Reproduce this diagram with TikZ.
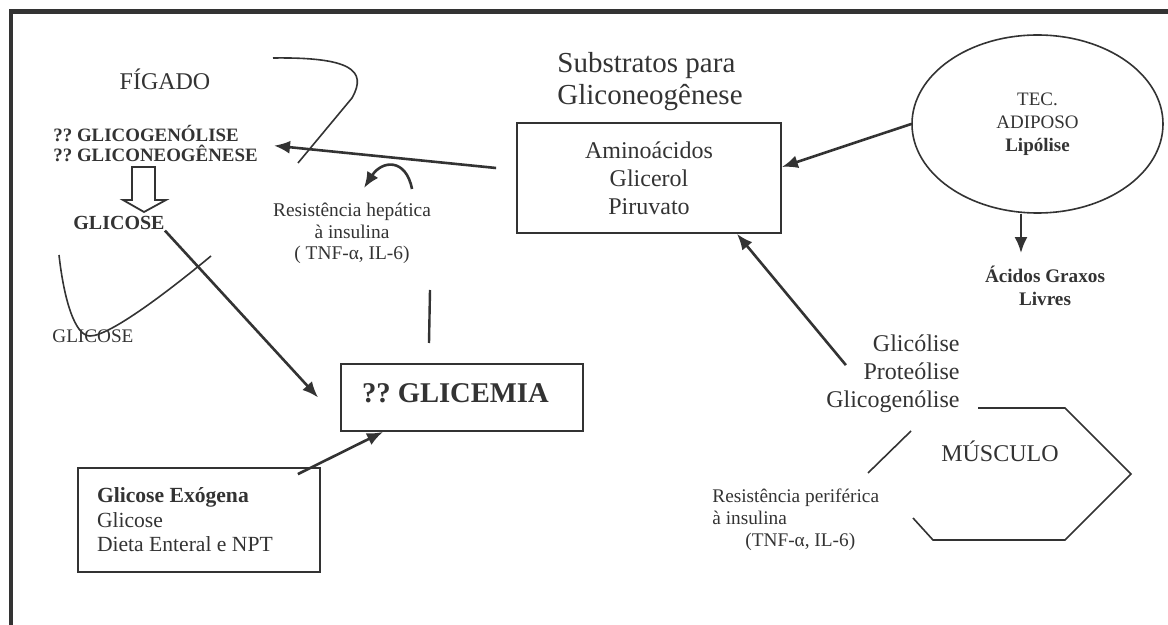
\documentclass[tikz,border=0pt]{standalone}
\usepackage{fontspec}
\setmainfont{Liberation Serif}
\usetikzlibrary{shapes.geometric, positioning}
\usetikzlibrary{arrows.meta}

\definecolor{ink}{HTML}{333333}
\frenchspacing

\begin{document}
\begin{tikzpicture}[x=0.5pt, y=-0.5pt,
    text=ink,
    inner sep=0pt,
    flow/.style={-{Latex[length=8pt,width=6.5pt]}, line width=1.3pt, draw=ink},
    traco/.style={line width=0.8pt, draw=ink},
    caixa/.style={draw=ink, line width=0.9pt}]
    \useasboundingbox (0,0) rectangle (1168,625);
    % moldura
    \draw[line width=2.3pt, draw=ink] (10.8,640) -- (10.8,11.7) -- (1180,11.7);

    % figado
    \node[anchor=base,
          font=\fontsize{12}{14}\selectfont] (figado) at (165,90) {FÍGADO};
    \node[anchor=base west,
          align=left,
          font=\bfseries\fontsize{9.45}{10}\selectfont] (hepatico) at (53,162)
        {?? GLICOGENÓLISE\\?? GLICONEOGÊNESE};
    \node[anchor=base west,
          font=\bfseries\fontsize{10}{12}\selectfont] (glicose) at (73,230) {GLICOSE};
    \node[anchor=base west,
          font=\fontsize{9.6}{11}\selectfont] (glicoseb) at (52,343) {GLICOSE};
    \node[anchor=base,
          align=center,
          font=\fontsize{9.7}{10.75}\selectfont] (resHep) at (352,260)
        {Resistência hepática\\à insulina\\( TNF-α, IL-6)};

    % glicemia
    \node[caixa,
          minimum width=121pt,
          minimum height=33.5pt,
          text width=100pt,
          align=flush left,
          inner xsep=10.5pt,
          text height=9.5pt,
          text depth=4pt,
          font=\bfseries\fontsize{14.3}{16}\selectfont] (glicemia) at (462,397.5) {?? GLICEMIA};
    \node[caixa,
          minimum width=121pt,
          minimum height=52pt,
          text width=102pt,
          align=flush left,
          font=\fontsize{10.8}{12.25}\selectfont] (exogena) at (199,520)
        {\textbf{Glicose Exógena}\\Glicose\\Dieta Enteral e NPT};

    % substratos
    \node[anchor=base west,
          align=left,
          font=\fontsize{14.5}{16}\selectfont] (substTit) at (557,105)
        {Substratos para\\Gliconeogênese};
    \node[caixa,
          minimum width=132pt,
          minimum height=55pt,
          align=center,
          font=\fontsize{12}{14}\selectfont] (subst) at (649,178)
        {Aminoácidos\\Glicerol\\Piruvato};

    % tecido adiposo
    \node[ellipse,
          caixa,
          line width=0.8pt,
          minimum width=125.5pt,
          minimum height=89pt,
          align=center,
          font=\fontsize{9.5}{11.5}\selectfont] (adiposo) at (1037.5,124)
        {TEC.\\ADIPOSO\\\textbf{Lipólise}};
    \node[anchor=base,
          align=center,
          font=\bfseries\fontsize{9.6}{11.5}\selectfont] (acidos) at (1045,306)
        {Ácidos Graxos\\Livres};

    % musculo
    \node[anchor=base east,
          align=right,
          font=\fontsize{12}{14.2}\selectfont] (muscProc) at (960,408)
        {Glicólise\\Proteólise\\Glicogenólise};
    \node[anchor=base,
          font=\fontsize{12}{14}\selectfont] (musculo) at (1000,462) {MÚSCULO};
    \node[anchor=base west,
          align=left,
          font=\fontsize{9.65}{11}\selectfont] (resPer) at (712,547)
        {Resistência periférica\\à insulina\\\hspace*{16.5pt}(TNF-α, IL-6)};

    % contornos
    \draw[traco] (273,58) .. controls (350,57) and (368,70) .. (352,98) -- (298,163);
    \draw[traco] (59,255) .. controls (64,300) and (75,336) .. (90,336)
        .. controls (110,336) and (170,290) .. (211,256);
    \draw[line width=1.2pt, draw=ink] (430,290) -- (429,343);
    \draw[traco] (978,408) -- (1065,408) -- (1131,474) -- (1065,540) -- (933,540) -- (913,518);
    \draw[traco] (911,431) -- (868,473);
    \draw[traco, line width=0.9pt] (132,167) -- (155,167) -- (155,200) -- (166,200)
        -- (144,212) -- (123,200) -- (132,200) -- cycle;

    % setas
    \coordinate (curvA) at (412,189);
    \coordinate (curvB) at (364,188);
    \draw[flow] (curvA) .. controls (406,158) and (382,160) .. (curvB);
    \draw[flow, shorten >=8pt] ([shift={(-20,-10)}]subst.west) -- (hepatico.east);
    \draw[flow] (adiposo.west) -- ([shift={(0,-11)}]subst.east);
    \draw[flow] ([xshift=-8.25pt]adiposo.south) -- ([shift={(-24,-13)}]acidos.north);
    \draw[flow] ([shift={(20,31)}]muscProc.north west) -- ([shift={(88,0)}]subst.south);
    \draw[flow] (glicose.south east) -- ([xshift=-11pt]glicemia.west);
    \draw[flow] ([shift={(-23,7)}]exogena.north east) -- ([shift={(-79,0)}]glicemia.south);
\end{tikzpicture}
\end{document}
